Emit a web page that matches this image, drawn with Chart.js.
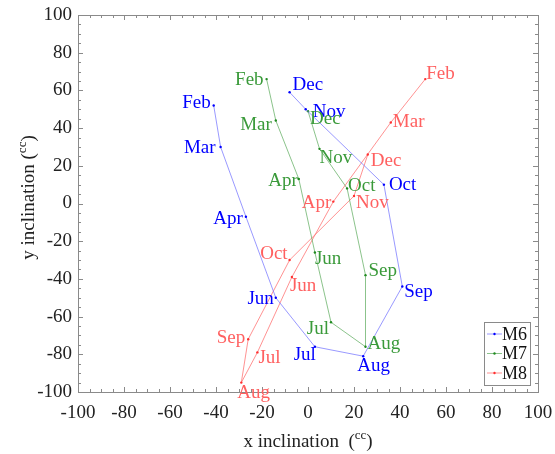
<!DOCTYPE html>
<html>
<head>
<meta charset="utf-8">
<script src="https://cdn.jsdelivr.net/npm/chart.js@4/dist/chart.umd.min.js"></script>
<style>
  html, body { margin: 0; padding: 0; background: #fff; }
  #wrap { width: 555px; height: 454px; }
</style>
</head>
<body>
<div id="wrap"><canvas id="inclChart" width="555" height="454"></canvas></div>
<script>
// months per series
const months = ['Feb', 'Mar', 'Apr', 'Jun', 'Jul', 'Aug', 'Sep', 'Oct', 'Nov', 'Dec'];

// x / y inclination (cc)
const m6X = [-41, -38, -27, -14, 3, 24, 41, 33, -1, -8];
const m6Y = [52, 30, -7, -50, -76, -81, -44, 10, 50, 59];
const m7X = [-18, -14, -4, 3, 10, 25, 25, 17, 5, 0];
const m7Y = [66, 44, 13, -26, -63, -76, -38, 8, 29, 49];
const m8X = [51, 36, 11, -7, -22, -29, -26, -8, 20, 26];
const m8Y = [66, 43, 1, -39, -79, -95, -72, -30, 4, 26];

const seriesNames = ['M6', 'M7', 'M8'];
const tickValues = [-100, -80, -60, -40, -20, 0, 20, 40, 60, 80, 100];

// where each month label sits next to its point: [align, dx, dy]
const labelPlace = [
  [['right',-3,-2],['right',-5,1],['right',-3,2],['right',-2,1],['right',1,8],
   ['left',-6,10],['left',2,6],['left',5,0],['left',7,3],['left',3,-7]],
  [['right',-3,1],['right',-4,4],['right',-1,2],['left',0,7],['right',-2,7],
   ['left',2,-3],['left',3,-4],['left',1,-2],['left',0,9],['left',2,8]],
  [['left',1,-5],['left',2,0],['right',-2,1],['left',-2,9],['left',1,6],
   ['left',-4,10],['right',-3,-1],['right',-2,-6],['left',2,7],['left',3,7]]
];

const lineCols = ['rgba(110,110,255,0.7)', 'rgba(90,170,90,0.7)', 'rgba(255,110,110,0.75)'];
const dotCols = ['#0000ff', '#1f8a1f', '#ff3030'];
const textCols = ['#0000ff', '#3a9a3a', '#ff6060'];
const serif = '"Liberation Serif", "DejaVu Serif", serif';

function pts(xs, ys) {
  return xs.map((x, i) => ({ x: x, y: ys[i] }));
}

const frame = {
  id: 'frame',
  afterDraw(chart) {
    const ctx = chart.ctx;
    const a = chart.chartArea;
    const xs = chart.scales.x, ys = chart.scales.y;
    ctx.save();
    ctx.strokeStyle = '#8a8a8a';
    ctx.lineWidth = 1;
    ctx.strokeRect(a.left + 0.5, a.top + 0.5, a.right - a.left, a.bottom - a.top);
    // inward ticks, minor every 5
    ctx.beginPath();
    for (let v = -100; v <= 100; v += 5) {
      const len = v % 20 === 0 ? 5 : 3;
      const px = Math.round(xs.getPixelForValue(v)) + 0.5;
      ctx.moveTo(px, a.bottom); ctx.lineTo(px, a.bottom - len);
      ctx.moveTo(px, a.top); ctx.lineTo(px, a.top + len);
      const py = Math.round(ys.getPixelForValue(v)) + 0.5;
      ctx.moveTo(a.left, py); ctx.lineTo(a.left + len, py);
      ctx.moveTo(a.right, py); ctx.lineTo(a.right - len, py);
    }
    ctx.stroke();

    // month labels
    ctx.font = '19px ' + serif;
    ctx.textBaseline = 'middle';
    chart.data.datasets.forEach((ds, di) => {
      const meta = chart.getDatasetMeta(di);
      ctx.fillStyle = textCols[di];
      meta.data.forEach((el, i) => {
        const p = labelPlace[di][i];
        ctx.textAlign = p[0];
        ctx.fillText(months[i], el.x + p[1], el.y + p[2]);
      });
    });

    // legend box, bottom right inside the plot
    const bx = 484, by = 322, bw = 46, bh = 63;
    ctx.fillStyle = '#fff';
    ctx.fillRect(bx, by, bw, bh);
    ctx.strokeStyle = '#8a8a8a';
    ctx.strokeRect(bx + 0.5, by + 0.5, bw, bh);
    ctx.font = '18px ' + serif;
    ctx.textAlign = 'left';
    seriesNames.forEach((n, i) => {
      const y = by + 12 + i * 19.5;
      ctx.strokeStyle = lineCols[i];
      ctx.beginPath();
      ctx.moveTo(bx + 3, y); ctx.lineTo(bx + 18, y);
      ctx.stroke();
      ctx.fillStyle = dotCols[i];
      ctx.beginPath();
      ctx.arc(bx + 10.5, y, 1.2, 0, Math.PI * 2);
      ctx.fill();
      ctx.fillStyle = '#111';
      ctx.fillText(n, bx + 18, y + 1);
    });

    // axis titles with superscript cc
    ctx.fillStyle = '#222';
    ctx.textBaseline = 'alphabetic';
    function title(x, y, main) {
      ctx.font = '19px ' + serif;
      const w1 = ctx.measureText(main + '(').width;
      ctx.font = '13px ' + serif;
      const w2 = ctx.measureText('cc').width;
      ctx.font = '19px ' + serif;
      const w3 = ctx.measureText(')').width;
      let sx = x - (w1 + w2 + w3) / 2;
      ctx.textAlign = 'left';
      ctx.fillText(main + '(', sx, y);
      ctx.font = '13px ' + serif;
      ctx.fillText('cc', sx + w1, y - 8);
      ctx.font = '19px ' + serif;
      ctx.fillText(')', sx + w1 + w2, y);
    }
    title((a.left + a.right) / 2, 447, 'x inclination  ');
    ctx.save();
    ctx.translate(34, (a.top + a.bottom) / 2 - 6);
    ctx.rotate(-Math.PI / 2);
    title(0, 0, 'y inclination ');
    ctx.restore();
    ctx.restore();
  }
};

new Chart(document.getElementById('inclChart').getContext('2d'), {
  type: 'scatter',
  data: {
    datasets: [
      { label: seriesNames[0], data: pts(m6X, m6Y) },
      { label: seriesNames[1], data: pts(m7X, m7Y) },
      { label: seriesNames[2], data: pts(m8X, m8Y) }
    ].map((d, i) => Object.assign(d, {
      showLine: true,
      borderColor: lineCols[i],
      borderWidth: 1,
      backgroundColor: dotCols[i],
      pointBackgroundColor: dotCols[i],
      pointBorderWidth: 0,
      pointRadius: 1.2,
      tension: 0
    }))
  },
  options: {
    responsive: false,
    animation: false,
    layout: { padding: { top: 15, right: 17, left: 0, bottom: 0 } },
    plugins: { legend: { display: false }, tooltip: { enabled: false } },
    scales: {
      x: {
        type: 'linear', min: -100, max: 100,
        afterBuildTicks: s => { s.ticks = tickValues.map(v => ({ value: v })); },
        afterFit: s => { s.height = 62; s.paddingLeft = 0; s.paddingRight = 0; },
        grid: { display: false, drawTicks: false },
        border: { display: false },
        ticks: { padding: 10, color: '#222', font: { family: serif, size: 19 } }
      },
      y: {
        type: 'linear', min: -100, max: 100,
        afterBuildTicks: s => { s.ticks = tickValues.map(v => ({ value: v })); },
        afterFit: s => { s.width = 78; s.paddingTop = 0; s.paddingBottom = 0; },
        grid: { display: false, drawTicks: false },
        border: { display: false },
        ticks: { padding: 6, color: '#222', font: { family: serif, size: 19 } }
      }
    }
  },
  plugins: [frame]
});
</script>
</body>
</html>
